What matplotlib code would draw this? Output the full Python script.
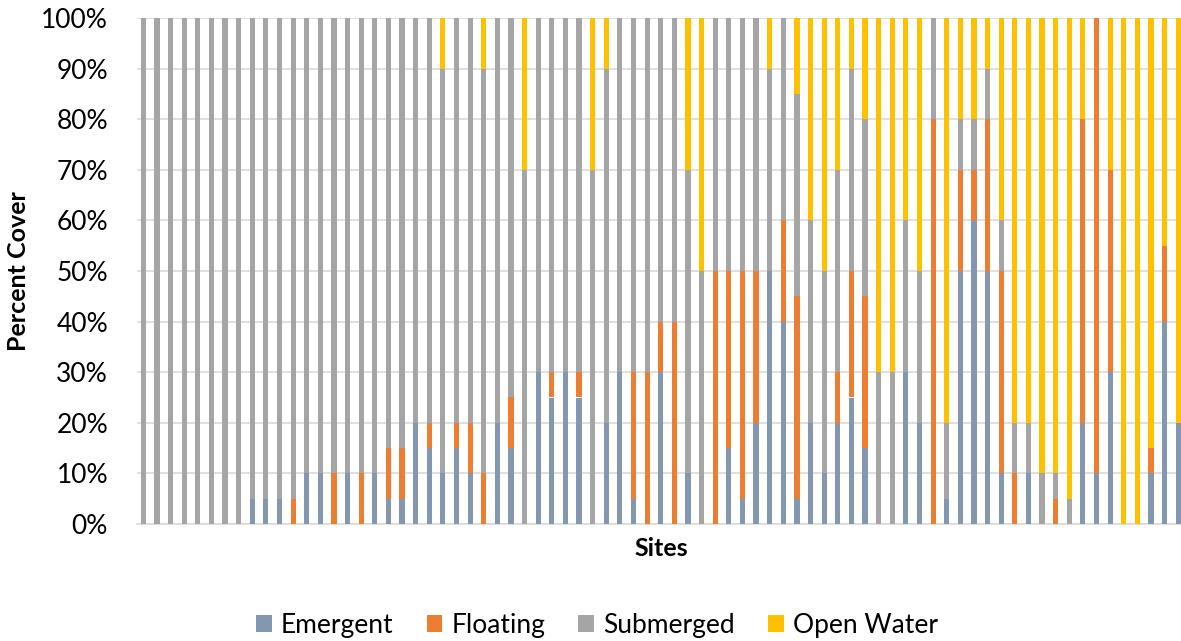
import matplotlib
matplotlib.use("Agg")
import matplotlib.pyplot as plt
from matplotlib.ticker import PercentFormatter, MultipleLocator
import numpy as np

emergent = [0, 0, 0, 0, 0, 0, 0, 0, 5, 5, 5, 0, 10, 10, 0, 10, 0, 10, 5, 5,
            20, 15, 10, 15, 10, 0, 20, 15, 0, 30, 25, 30, 25, 0, 20, 30, 5, 0, 30, 0,
            10, 0, 0, 15, 5, 20, 50, 40, 5, 20, 10, 20, 25, 15, 0, 0, 30, 20, 0, 5,
            50, 60, 50, 10, 0, 10, 0, 0, 0, 20, 10, 30, 0, 0, 10, 40, 20]
floating = [0, 0, 0, 0, 0, 0, 0, 0, 0, 0, 0, 5, 0, 0, 10, 0, 10, 0, 10, 10,
            0, 5, 0, 5, 10, 10, 0, 10, 0, 0, 5, 0, 5, 0, 0, 0, 25, 30, 10, 40,
            0, 0, 50, 35, 45, 30, 0, 20, 40, 0, 0, 10, 25, 30, 0, 0, 0, 0, 80, 0,
            20, 10, 30, 40, 10, 0, 0, 5, 0, 60, 90, 40, 0, 0, 5, 15, 0]
submerged = [100, 100, 100, 100, 100, 100, 100, 100, 95, 95, 95, 95, 90, 90, 90, 90, 90, 90, 85, 85,
             80, 80, 80, 80, 80, 80, 80, 75, 70, 70, 70, 70, 70, 70, 70, 70, 70, 70, 60, 60,
             60, 50, 50, 50, 50, 50, 40, 40, 40, 40, 40, 40, 40, 35, 30, 30, 30, 30, 20, 15,
             10, 10, 10, 10, 10, 10, 10, 5, 5, 0, 0, 0, 0, 0, 0, 0, 0]
open_water = [0, 0, 0, 0, 0, 0, 0, 0, 0, 0, 0, 0, 0, 0, 0, 0, 0, 0, 0, 0,
              0, 0, 10, 0, 0, 10, 0, 0, 30, 0, 0, 0, 0, 30, 10, 0, 0, 0, 0, 0,
              30, 50, 0, 0, 0, 0, 10, 0, 15, 40, 50, 30, 10, 20, 70, 70, 40, 50, 0, 80,
              20, 20, 10, 40, 80, 80, 90, 90, 95, 20, 0, 30, 100, 100, 85, 45, 80]

series = ["Emergent", "Floating", "Submerged", "Open Water"]
colors = ["#8497B0", "#ED7D31", "#A5A5A5", "#FFC000"]

fig = plt.figure(figsize=(11.81, 6.41), dpi=100)
W, H = 1181, 641
left_px, right_px, top_px, bot_px = 136.5, 1185.0, 18.0, 524.0
ax = fig.add_axes([left_px / W, 1 - bot_px / H, (right_px - left_px) / W, (bot_px - top_px) / H])

x = np.arange(len(emergent))
bottom = np.zeros(len(x))
for name, vals, c in zip(series, [emergent, floating, submerged, open_water], colors):
    v = np.array(vals, dtype=float)
    ax.bar(x, v, bottom=bottom, width=0.38, color=c, label=name, zorder=3, linewidth=0)
    bottom += v

ax.set_xlim(-0.5, len(x) - 0.5)
ax.set_ylim(0, 100)
ax.yaxis.set_major_locator(MultipleLocator(10))
ax.yaxis.set_major_formatter(PercentFormatter(decimals=0))
ax.set_xticks([])
ax.grid(axis="y", color="#D9D9D9", linewidth=1.2, zorder=0)
for s in ["top", "right", "left"]:
    ax.spines[s].set_visible(False)
ax.spines["bottom"].set_color("#D9D9D9")
ax.spines["bottom"].set_linewidth(1.2)
ax.tick_params(axis="y", length=0, labelsize=19, pad=20.5)
for lbl in ax.get_yticklabels():
    lbl.set_fontfamily("Lato")

fig.text(19 / W, 1 - 271 / H, "Percent Cover", rotation=90, ha="center", va="center",
         fontsize=18, fontweight="bold", family="Lato")
fig.text(661 / W, 1 - 549 / H, "Sites", ha="center", va="center",
         fontsize=18, fontweight="bold", family="Lato")

handles, labels = ax.get_legend_handles_labels()
leg = fig.legend(handles, labels, loc="center", bbox_to_anchor=(597 / W, 1 - 625 / H), ncol=4,
                 frameon=False, prop={"family": "Lato", "size": 19},
                 handlelength=0.6, handleheight=0.6, handletextpad=0.35, columnspacing=1.25)

fig.savefig("out.png", dpi=100)
